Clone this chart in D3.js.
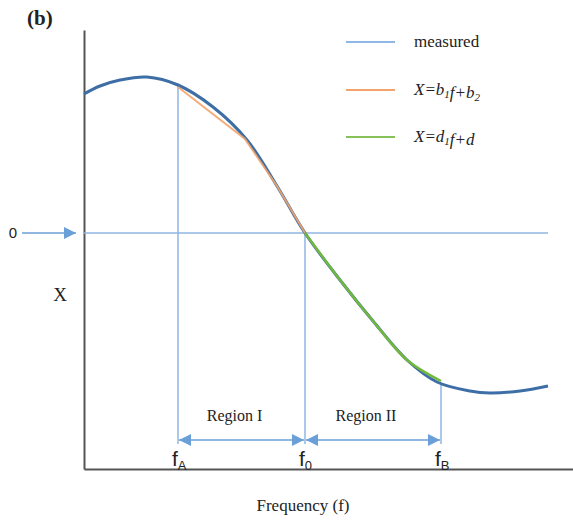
<!DOCTYPE html>
<html>
<head>
<meta charset="utf-8">
<script src="https://cdn.jsdelivr.net/npm/d3@7"></script>
<style>
body{margin:0;background:#fff}
text{font-family:"Liberation Serif","DejaVu Serif",serif;fill:#222}
</style>
</head>
<body>
<div id="container"></div>
<script>
// measured curve (arbitrary units)
var freq = [0, 0.16, 0.36, 0.63, 0.94, 1.29, 1.63, 1.93, 2.21, 2.56, 2.89, 3.23, 3.53, 3.86, 4.06, 4.36, 4.64]
var measured = [1.39, 1.47, 1.53, 1.56, 1.48, 1.26, 0.93, 0.47, 0, -0.47, -0.88, -1.27, -1.49, -1.58, -1.60, -1.58, -1.53]

// linear fit region I
var fitFreqA = [0.94, 1.61, 1.93, 2.21]
var fitA = [1.46, 0.94, 0.47, 0]
// linear fit region II
var fitFreqB = [2.21, 2.56, 2.89, 3.23, 3.57]
var fitB = [0, -0.47, -0.88, -1.27, -1.48]

var marks = [{name:"A", f:0.94}, {name:"0", f:2.21}, {name:"B", f:3.57}]
var regions = ["Region I", "Region II"]
var legendLabels = ["measured", "X=b1f+b2", "X=d1f+d"]

var w = 573, h = 526
var svg = d3.select("#container").append("svg").attr("width", w).attr("height", h)

var xScale = d3.scaleLinear().domain([0, 4.89]).range([84, 573])
var yScale = d3.scaleLinear().domain([-2.36, 2.03]).range([469, 30])

var light = "#8fb6e4", dark = "#3e6ea6"

svg.append("defs").append("marker")
    .attr("id", "head").attr("viewBox", "0 0 10 10").attr("refX", 10).attr("refY", 5)
    .attr("markerWidth", 15).attr("markerHeight", 12).attr("markerUnits", "userSpaceOnUse")
    .attr("orient", "auto-start-reverse")
    .append("path").attr("d", "M0,0L10,5L0,10Z").attr("fill", "#6a9fd8")

// axes without ticks
var yAxis = d3.axisLeft(yScale).ticks(0).tickSizeOuter(0)
svg.append("g").attr("transform", "translate(84,0)").call(yAxis)
    .select(".domain").attr("stroke", "#555").attr("stroke-width", 2)
var xAxis = d3.axisBottom(xScale).ticks(0).tickSizeOuter(0)
svg.append("g").attr("transform", "translate(0,469)").call(xAxis)
    .select(".domain").attr("stroke", "#555").attr("stroke-width", 2)

// zero line and arrow
svg.append("line").attr("x1", xScale(0)).attr("x2", xScale(4.64))
    .attr("y1", yScale(0)).attr("y2", yScale(0)).attr("stroke", light).attr("stroke-width", 1.5)
svg.append("line").attr("x1", 22).attr("x2", 76).attr("y1", yScale(0)).attr("y2", yScale(0))
    .attr("stroke", "#6a9fd8").attr("stroke-width", 1.5).attr("marker-end", "url(#head)")
svg.append("text").text("0").attr("x", 13).attr("y", yScale(0) + 5).attr("text-anchor", "middle")
    .style("font-family", "Liberation Sans, sans-serif").style("font-size", "15px")

var line = d3.line().curve(d3.curveCatmullRom)
    .x(function(d){return xScale(d[0])}).y(function(d){return yScale(d[1])})

function valueAt(f){
    for(var i = 0; i < freq.length - 1; i++){
        if(f >= freq[i] && f <= freq[i+1]){
            var t = (f - freq[i]) / (freq[i+1] - freq[i])
            return measured[i] + t * (measured[i+1] - measured[i])
        }
    }
    return 0
}

// vertical guide lines
marks.forEach(function(m){
    var top = m.name == "0" ? 0 : valueAt(m.f)
    svg.append("line").attr("x1", xScale(m.f)).attr("x2", xScale(m.f))
        .attr("y1", yScale(top)).attr("y2", 444).attr("stroke", light).attr("stroke-width", 1.5)
    var t = svg.append("text").attr("x", xScale(m.f) - 6).attr("y", 466)
        .style("font-family", "Liberation Sans, sans-serif").style("font-size", "21px")
    t.append("tspan").text("f")
    t.append("tspan").text(m.name).attr("dy", 4).style("font-size", "13px")
})

// region arrows
for(var i = 0; i < 2; i++){
    var a = xScale(marks[i].f), b = xScale(marks[i+1].f)
    svg.append("line").attr("x1", a + 1).attr("x2", b - 1).attr("y1", 440).attr("y2", 440)
        .attr("stroke", "#6a9fd8").attr("stroke-width", 1.5)
        .attr("marker-start", "url(#head)").attr("marker-end", "url(#head)")
    svg.append("text").text(regions[i]).attr("x", (a + b) / 2 - 7).attr("y", 421)
        .attr("text-anchor", "middle").style("font-size", "16px")
}

// curves
svg.append("path").attr("d", line(d3.zip(freq, measured)))
    .attr("fill", "none").attr("stroke", dark).attr("stroke-width", 3)
svg.append("path").attr("d", d3.line()
        .x(function(d){return xScale(d[0])}).y(function(d){return yScale(d[1])})(d3.zip(fitFreqA, fitA)))
    .attr("fill", "none").attr("stroke", "#f2a46c").attr("stroke-width", 2).attr("opacity", 0.9)
svg.append("path").attr("d", line(d3.zip(fitFreqB, fitB)))
    .attr("fill", "none").attr("stroke", "#72b83c").attr("stroke-width", 2.5)

// legend
var legendColors = [light, "#f2a46c", "#86c25a"]
var legendY = [42, 90, 137]
legendLabels.forEach(function(l, i){
    svg.append("line").attr("x1", 346).attr("x2", 395).attr("y1", legendY[i]).attr("y2", legendY[i])
        .attr("stroke", legendColors[i]).attr("stroke-width", 2)
    var t = svg.append("text").attr("x", 414).attr("y", legendY[i] + 5).style("font-size", "17px")
    if(i == 0){
        t.text(l)
    }else{
        t.style("font-style", "italic")
        var parts = l.match(/[a-zA-Z=+]+|\d/g)
        parts.forEach(function(p){
            if(/\d/.test(p)){
                t.append("tspan").text(p).attr("dy", 3).style("font-size", "11px")
                t.append("tspan").text("").attr("dy", -3)
            }else{
                t.append("tspan").text(p)
            }
        })
    }
})

svg.append("text").text("(b)").attr("x", 27).attr("y", 25)
    .style("font-weight", "bold").style("font-size", "21px")
svg.append("text").text("X").attr("x", 60).attr("y", 301).attr("text-anchor", "middle").style("font-size", "19px")
svg.append("text").text("Frequency (f)").attr("x", 303).attr("y", 511).attr("text-anchor", "middle").style("font-size", "17px")
</script>
</body>
</html>
